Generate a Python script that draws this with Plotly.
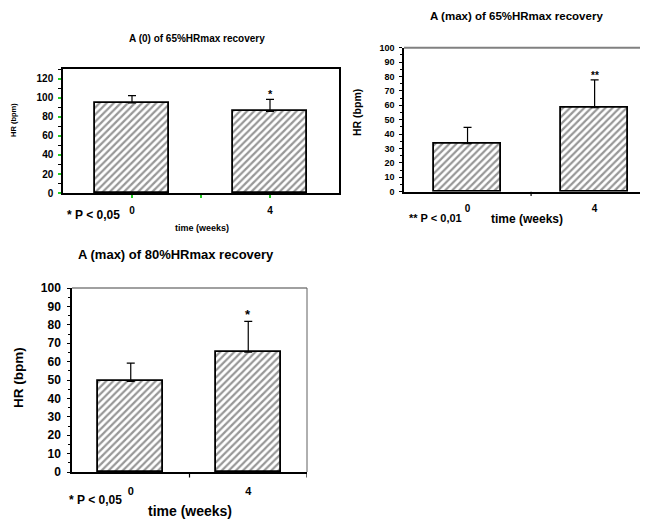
import plotly.graph_objects as go

# ---------------- data ----------------
weeks = ["0", "4"]

a0_65_mean = [94.7, 86.0]
a0_65_sd = [7.7, 12.6]
a0_65_sig = ["", "*"]

amax_65_mean = [33.3, 58.3]
amax_65_sd = [11.4, 19.3]
amax_65_sig = ["", "**"]

amax_80_mean = [49.3, 65.2]
amax_80_sd = [9.9, 16.7]
amax_80_sig = ["", "*"]

titles = ["A (0) of 65%HRmax recovery",
          "A (max) of 65%HRmax recovery",
          "A (max) of 80%HRmax recovery"]
p_notes = ["* P < 0,05", "** P < 0,01", "* P < 0,05"]
x_title = "time (weeks)"
y_title = "HR (bpm)"

# ---------------- layout helpers ----------------
OFF = 8                      # default page body margin
W, H = 648 - OFF, 523 - OFF
FONT = "Liberation Sans, Arial, sans-serif"


def px(x):
    return (x - OFF) / W


def py(y):
    return 1 - (y - OFF) / H


xpos = list(range(len(weeks)))

fig = go.Figure()


def add_bars(means, sds, xa, ya, width):
    fig.add_trace(go.Bar(
        x=xpos, y=means, width=width,
        xaxis=xa, yaxis=ya,
        marker=dict(color="white",
                    pattern=dict(shape="/", fgcolor="#303030", bgcolor="white",
                                 size=5, solidity=0.45),
                    line=dict(color="black", width=1.8)),
        error_y=dict(type="data", symmetric=False, array=sds,
                     arrayminus=[0] * len(sds), color="black",
                     thickness=1.2, width=4),
        showlegend=False, hoverinfo="skip",
    ))


add_bars(a0_65_mean, a0_65_sd, "x", "y", 0.54)
add_bars(amax_65_mean, amax_65_sd, "x2", "y2", 0.53)
add_bars(amax_80_mean, amax_80_sd, "x3", "y3", 0.55)

green = "#22cc22"

fig.update_layout(
    width=W, height=H,
    margin=dict(l=0, r=0, t=0, b=0, autoexpand=False),
    paper_bgcolor="white", plot_bgcolor="white",
    font=dict(family=FONT, color="black"),
    bargap=0,
    # chart 1
    xaxis=dict(domain=[px(63), px(339)], range=[-0.5, 1.5],
               tickvals=[0, 0.5, 1], ticktext=[weeks[0], "", weeks[1]],
               ticks="outside", ticklen=3, tickwidth=1.5, tickcolor=green,
               tickfont=dict(size=10, weight="bold"), ticklabelstandoff=4,
               showline=True, linecolor="black", linewidth=2, mirror=True,
               showgrid=False, zeroline=False, anchor="y", automargin=False),
    yaxis=dict(domain=[py(193), py(69)], range=[0, 130.5],
               tickvals=[0, 20, 40, 60, 80, 100, 120],
               ticks="outside", ticklen=3, tickwidth=1.5, tickcolor=green,
               minor=dict(tickvals=[10, 30, 50, 70, 90, 110, 130], ticks="outside",
                          ticklen=3, tickcolor="black", tickwidth=1),
               tickfont=dict(size=10, weight="bold"), ticklabelstandoff=3,
               showline=True, linecolor="black", linewidth=1.5, mirror=True,
               showgrid=False, zeroline=False, anchor="x", automargin=False),
    # chart 2
    xaxis2=dict(domain=[px(404), 1.0], range=[-0.5, 1.42],
                tickvals=[0, 1], ticktext=weeks,
                ticks="", tickfont=dict(size=10, weight="bold"), ticklabelstandoff=7,
                showline=True, linecolor="black", linewidth=1.5,
                showgrid=False, zeroline=False, anchor="y2", automargin=False),
    yaxis2=dict(domain=[py(191.7), py(47.7)], range=[0, 100],
                dtick=10, ticks="outside", ticklen=3, tickcolor="black",
                minor=dict(dtick=5, ticks="outside", ticklen=2, tickcolor="black"),
                tickfont=dict(size=9, weight="bold"), ticklabelstandoff=3,
                showline=True, linecolor="black", linewidth=1.5,
                showgrid=False, zeroline=False, anchor="x2", automargin=False),
    # chart 3
    xaxis3=dict(domain=[px(72), px(307)], range=[-0.5, 1.5],
                tickvals=[0, 1], ticktext=weeks,
                ticks="", tickfont=dict(size=11, weight="bold"), ticklabelstandoff=8,
                showline=True, linecolor="black", linewidth=1.5,
                showgrid=False, zeroline=False, anchor="y3", automargin=False),
    yaxis3=dict(domain=[py(472), py(288)], range=[0, 100],
                dtick=10, ticks="outside", ticklen=3, tickcolor="black",
                minor=dict(dtick=5, ticks="outside", ticklen=2, tickcolor="black"),
                tickfont=dict(size=12, weight="bold"), ticklabelstandoff=4,
                showline=True, linecolor="black", linewidth=1.5,
                showgrid=False, zeroline=False, anchor="x3", automargin=False),
)

# boundary ticks on category axes of charts 2 and 3 + gray top borders
shapes = []
for xa, ya, bounds in [("x2", "y2", [0.5]), ("x3", "y3", [0.5, 1.5])]:
    for b in bounds:
        shapes.append(dict(type="line", xref=xa, yref=ya + " domain",
                           x0=b, x1=b, y0=0, y1=-0.03,
                           line=dict(color="black", width=1.2)))
shapes.append(dict(type="line", xref="x2 domain", yref="y2 domain",
                   x0=0, x1=1, y0=1, y1=1, line=dict(color="#808080", width=2)))
shapes.append(dict(type="line", xref="x3 domain", yref="y3 domain",
                   x0=0, x1=1, y0=1, y1=1, line=dict(color="#808080", width=1.5)))
shapes.append(dict(type="line", xref="x3 domain", yref="y3 domain",
                   x0=1, x1=1, y0=0, y1=1, line=dict(color="#606060", width=1)))
fig.update_layout(shapes=shapes)

ann = []


def txt(text, x, y, size, xanchor="center", yanchor="middle", angle=0):
    ann.append(dict(text=text, x=px(x), y=py(y), xref="paper", yref="paper",
                    xanchor=xanchor, yanchor=yanchor, showarrow=False,
                    textangle=angle,
                    font=dict(size=size, family=FONT, weight="bold", color="black")))


# titles
txt(titles[0], 197, 39, 10)
txt(titles[1], 516, 16, 11.5)
txt(titles[2], 176, 255, 13)
# y titles
txt(y_title, 14, 120, 7.5, angle=-90)
txt(y_title, 357, 113, 10.5, angle=-90)
txt(y_title, 18, 378, 13.5, angle=-90)
# x titles
txt(x_title, 202, 228, 9)
txt(x_title, 527, 219, 12)
txt(x_title, 190, 511, 14)
# p notes
txt(p_notes[0], 65, 215, 12, xanchor="left")
txt(p_notes[1], 407, 218, 11, xanchor="left")
txt(p_notes[2], 67, 500, 12, xanchor="left")

# significance markers above error bars
for xa, ya, means, sds, sig, size in [
        ("x", "y", a0_65_mean, a0_65_sd, a0_65_sig, 11),
        ("x2", "y2", amax_65_mean, amax_65_sd, amax_65_sig, 10),
        ("x3", "y3", amax_80_mean, amax_80_sd, amax_80_sig, 13)]:
    for i, s in enumerate(sig):
        if s:
            ann.append(dict(text=s, x=xpos[i], y=means[i] + sds[i], xref=xa, yref=ya,
                            xanchor="center", yanchor="bottom", showarrow=False,
                            yshift=-3,
                            font=dict(size=size, family=FONT, weight="bold",
                                      color="black")))

fig.update_layout(annotations=ann)

fig.write_html("out.html")
